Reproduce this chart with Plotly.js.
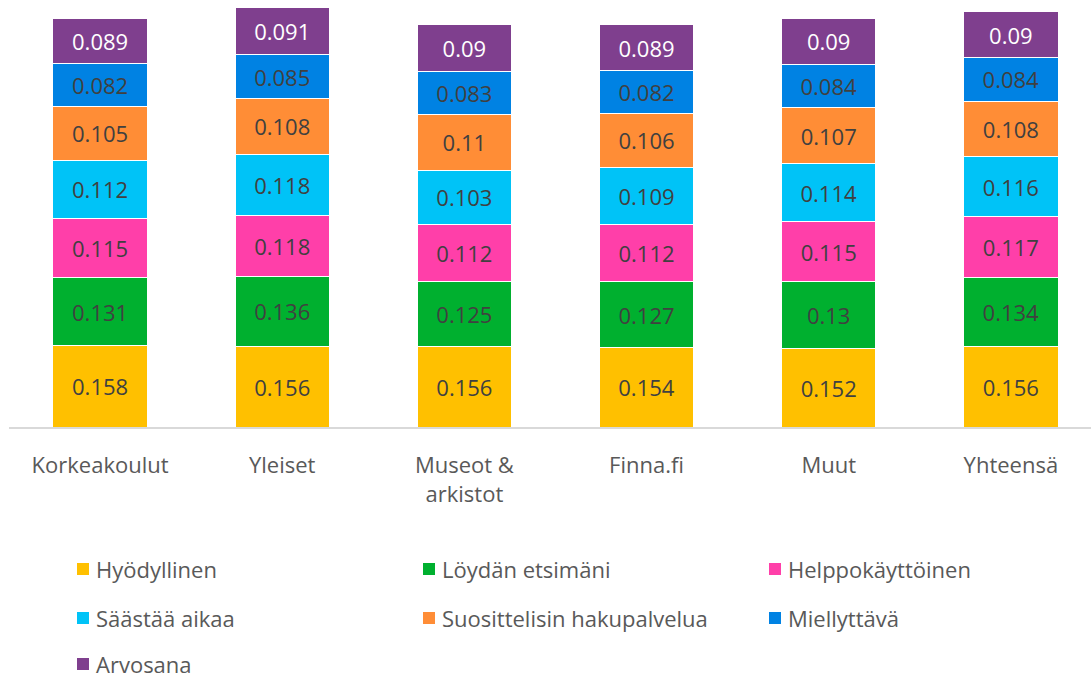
<!DOCTYPE html>
<html>
<head>
<meta charset="utf-8">
<script src="https://cdn.plot.ly/plotly-3.0.1.min.js"></script>
<style>html,body{margin:0;padding:0;background:#fff;}#chart{width:1091px;height:674px;}</style>
</head>
<body>
<div id="chart"></div>
<script>
var categories = ["Korkeakoulut", "Yleiset", "Museot &<br>arkistot", "Finna.fi", "Muut", "Yhteensä"];
var seriesNames = ["Hyödyllinen", "Löydän etsimäni", "Helppokäyttöinen", "Säästää aikaa", "Suosittelisin hakupalvelua", "Miellyttävä", "Arvosana"];
var hyodyllinen = [0.158, 0.156, 0.156, 0.154, 0.152, 0.156];
var loydan = [0.131, 0.136, 0.125, 0.127, 0.13, 0.134];
var helppo = [0.115, 0.118, 0.112, 0.112, 0.115, 0.117];
var saastaa = [0.112, 0.118, 0.103, 0.109, 0.114, 0.116];
var suosittelisin = [0.105, 0.108, 0.11, 0.106, 0.107, 0.108];
var miellyttava = [0.082, 0.085, 0.083, 0.082, 0.084, 0.084];
var arvosana = [0.089, 0.091, 0.09, 0.089, 0.09, 0.09];
var seriesValues = [hyodyllinen, loydan, helppo, saastaa, suosittelisin, miellyttava, arvosana];
var colors = ["#FFC000", "#00B02F", "#FF3FA9", "#00C3F7", "#FF8D36", "#0082E3", "#7F3F8E"];
var labelColors = ["#404040", "#404040", "#404040", "#404040", "#404040", "#404040", "#FFFFFF"];

var FONT = "Open Sans, Noto Sans, sans-serif";
var W = 1091, H = 674, ML = 9, MR = 0, MT = 0, MB = 247;
var PW = W - ML - MR, PH = H - MT - MB;
function px2x(px) { return (px - ML) / PW; }
function px2y(py) { return (MT + PH - py) / PH; }

var traces = seriesNames.map(function (name, i) {
  return {
    type: "bar",
    name: name,
    x: categories,
    y: seriesValues[i],
    marker: { color: colors[i], line: { color: "#FFFFFF", width: 1 } },
    text: seriesValues[i].map(function (v) { return String(v); }),
    texttemplate: "%{text}",
    textposition: "inside",
    insidetextanchor: "middle",
    textangle: 0,
    constraintext: "none",
    textfont: { family: FONT, size: 22, color: labelColors[i] },
    hoverinfo: "skip"
  };
});

// Manual legend (3 columns)
var colX = [77, 423, 769];
var rowY = [569, 618, 664];
var shapes = [], annotations = [];
seriesNames.forEach(function (name, i) {
  var c = i % 3, r = Math.floor(i / 3);
  var sx = colX[c], sy = rowY[r];
  shapes.push({
    type: "rect", xref: "paper", yref: "paper",
    x0: px2x(sx), x1: px2x(sx + 12), y0: px2y(sy + 6), y1: px2y(sy - 6),
    fillcolor: colors[i], line: { width: 0 }
  });
  annotations.push({
    xref: "paper", yref: "paper", x: px2x(sx + 17), y: px2y(sy),
    xanchor: "left", yanchor: "middle", showarrow: false,
    text: name, font: { family: FONT, size: 22, color: "#595959" }
  });
});

var layout = {
  width: W, height: H,
  margin: { l: ML, r: MR, t: MT, b: MB, pad: 0 },
  paper_bgcolor: "#FFFFFF", plot_bgcolor: "#FFFFFF",
  barmode: "stack",
  bargap: 0.482,
  showlegend: false,
  xaxis: {
    type: "category",
    range: [-0.5, 5.44],
    showline: true, linecolor: "#D9D9D9", linewidth: 1.5,
    ticks: "outside", ticklen: 18, tickcolor: "rgba(0,0,0,0)",
    tickfont: { family: FONT, size: 22, color: "#595959" },
    showgrid: false, zeroline: false, fixedrange: true
  },
  yaxis: { visible: false, range: [0, 0.8269], fixedrange: true },
  shapes: shapes,
  annotations: annotations,
  font: { family: FONT }
};

Plotly.newPlot("chart", traces, layout, { displayModeBar: false, staticPlot: true });
</script>
</body>
</html>
